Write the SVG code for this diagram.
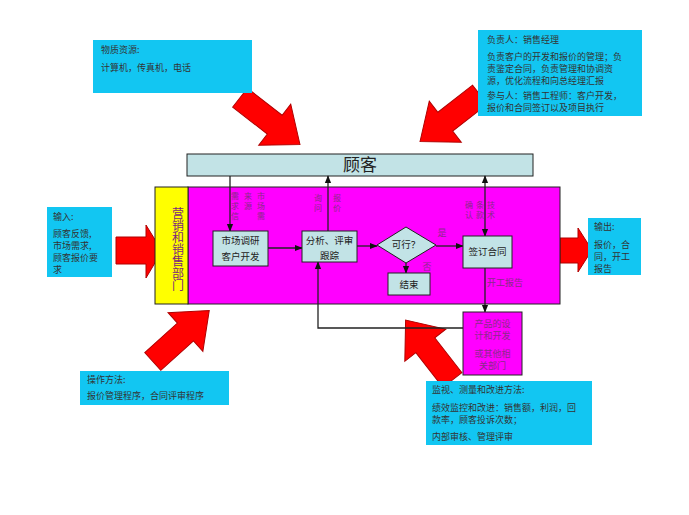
<svg xmlns="http://www.w3.org/2000/svg" width="689" height="515" viewBox="0 0 689 515">
<style>
text{font-family:"Noto Sans CJK SC","Liberation Serif",serif;}
.info{fill:#12C6F2;}
.it{font-size:9px;fill:#333;}
.red{fill:#FF0000;stroke:#B00000;stroke-width:1;}
.lb{fill:#C2E3E6;stroke:#222;stroke-width:1;}
.bt{font-size:9.5px;fill:#222;text-anchor:middle;}
.pl{font-size:9px;fill:#8A2A8A;text-anchor:middle;}
.vl{font-size:8px;fill:#8A2A8A;writing-mode:vertical-rl;letter-spacing:2px;}
.dp{font-size:12px;fill:#7A2A7A;writing-mode:vertical-rl;}
.ln{stroke:#222;stroke-width:1.3;fill:none;}
</style>
<defs>
<marker id="ah" viewBox="0 0 10 10" refX="9" refY="5" markerWidth="6" markerHeight="6" orient="auto-start-reverse"><path d="M0,1 L10,5 L0,9 z" fill="#111"/></marker>
<polygon id="bigarrow" points="-38,-12 6,-12 6,-26 38,0 6,26 6,12 -38,12"/>
</defs>
<rect width="689" height="515" fill="#fff"/>

<g id="arrows-big">
<use href="#bigarrow" class="red" transform="translate(270,121) rotate(38)"/>
<use href="#bigarrow" class="red" transform="translate(450,118) rotate(142)"/>
<use href="#bigarrow" class="red" transform="translate(181,336) rotate(-42)"/>
<use href="#bigarrow" class="red" transform="translate(429,350) rotate(-128)"/>
<polygon class="red" points="116,237 146,237 146,225 162,251 146,278 146,264 116,264"/>
<polygon class="red" points="560,238 578,238 578,228 592,250 578,272 578,263 560,263"/>
</g>

<g id="resources">
<rect class="info" x="93" y="40" width="159" height="53"/>
<text class="it" x="101" y="53">物质资源:</text>
<text class="it" x="101" y="71">计算机，传真机，电话</text>
</g>

<g id="responsible">
<rect class="info" x="478" y="30" width="164" height="86"/>
<text class="it" x="487" y="43">负责人：销售经理</text>
<text class="it" x="487" y="60">负责客户的开发和报价的管理；负</text>
<text class="it" x="487" y="72">责鉴定合同，负责管理和协调资</text>
<text class="it" x="487" y="84">源，优化流程和向总经理汇报</text>
<text class="it" x="487" y="99">参与人：销售工程师：客户开发，</text>
<text class="it" x="487" y="111">报价和合同签订以及项目执行</text>
</g>

<g id="input">
<rect class="info" x="47" y="207" width="65" height="70"/>
<text class="it" x="53" y="220">输入:</text>
<text class="it" x="53" y="237">顾客反馈,</text>
<text class="it" x="53" y="249">市场需求,</text>
<text class="it" x="53" y="261">顾客报价要</text>
<text class="it" x="53" y="273">求</text>
</g>

<g id="output">
<rect class="info" x="588" y="218" width="53" height="57"/>
<text class="it" x="594" y="230">输出:</text>
<text class="it" x="594" y="248">报价，合</text>
<text class="it" x="594" y="260">同，开工</text>
<text class="it" x="594" y="272">报告</text>
</g>

<g id="method">
<rect class="info" x="80" y="371" width="149" height="34"/>
<text class="it" x="87" y="383">操作方法:</text>
<text class="it" x="87" y="399">报价管理程序，合同评审程序</text>
</g>

<g id="monitor">
<rect class="info" x="426" y="381" width="166" height="64"/>
<text class="it" x="432" y="393">监视、测量和改进方法:</text>
<text class="it" x="432" y="411">绩效监控和改进：销售额，利润，回</text>
<text class="it" x="432" y="423">款率，顾客投诉次数；</text>
<text class="it" x="432" y="440">内部审核、管理评审</text>
</g>

<g id="customer">
<rect class="lb" x="187" y="154" width="346" height="22"/>
<text x="360" y="171" font-size="17" fill="#222" text-anchor="middle">顾客</text>
</g>

<g id="main-area">
<rect x="188" y="187" width="372" height="117" fill="#FF00FF" stroke="#222" stroke-width="1"/>
</g>

<g id="dept">
<rect x="155" y="187" width="33" height="117" fill="#FFFF00" stroke="#222" stroke-width="1"/>
<text class="dp" x="178" y="207">营销和销售部门</text>
</g>

<g id="connectors">
<line class="ln" x1="230" y1="176" x2="230" y2="231" marker-end="url(#ah)"/>
<line class="ln" x1="328" y1="231" x2="328" y2="176" marker-end="url(#ah)"/>
<line class="ln" x1="485" y1="236" x2="485" y2="176" marker-end="url(#ah)" marker-start="url(#ah)"/>
<line class="ln" x1="268" y1="248" x2="302" y2="248" marker-end="url(#ah)"/>
<line class="ln" x1="357" y1="246" x2="377" y2="246" marker-end="url(#ah)"/>
<line class="ln" x1="436" y1="246" x2="463" y2="246" marker-end="url(#ah)"/>
<line class="ln" x1="406" y1="263" x2="406" y2="273" marker-end="url(#ah)"/>
<line class="ln" x1="485" y1="268" x2="485" y2="312" marker-end="url(#ah)"/>
<polyline class="ln" points="463,328 318,328 318,262" marker-end="url(#ah)"/>
</g>

<g id="labels">
<text class="vl" x="235" y="192">需求信</text>
<text class="vl" x="248" y="192">来源</text>
<text class="vl" x="261" y="192">市场需</text>
<text class="vl" x="318" y="194">询问</text>
<text class="vl" x="337" y="194">报价</text>
<text class="vl" x="469" y="201">确认</text>
<text class="vl" x="480" y="201">条款</text>
<text class="vl" x="491" y="201">技术</text>
<text class="pl" x="442" y="236">是</text>
<text class="pl" x="427" y="270">否</text>
<text class="pl" x="505" y="286">开工报告</text>
</g>

<g id="research">
<rect class="lb" x="213" y="231" width="55" height="35"/>
<text class="bt" x="240.5" y="244">市场调研</text>
<text class="bt" x="240.5" y="260">客户开发</text>
</g>

<g id="analysis">
<rect class="lb" x="302" y="231" width="55" height="31"/>
<text class="bt" x="329.5" y="244">分析、评审</text>
<text class="bt" x="329.5" y="259">跟踪</text>
</g>

<g id="decision">
<polygon class="lb" points="406,227 436,245 406,263 377,245"/>
<text class="bt" x="406" y="248">可行？</text>
</g>

<g id="contract">
<rect class="lb" x="463" y="236" width="49" height="32"/>
<text class="bt" x="487.5" y="255">签订合同</text>
</g>

<g id="end">
<rect class="lb" x="388" y="273" width="42" height="22"/>
<text class="bt" x="409" y="288">结束</text>
</g>

<g id="design">
<rect x="463" y="312" width="59" height="63" fill="#FF00FF" stroke="#222" stroke-width="1"/>
<text class="pl" x="492.5" y="327" fill="#B060B0">产品的设</text>
<text class="pl" x="492.5" y="339" fill="#B060B0">计和开发</text>
<text class="pl" x="492.5" y="357" fill="#B060B0">或其他相</text>
<text class="pl" x="492.5" y="369" fill="#B060B0">关部门</text>
</g>
</svg>
